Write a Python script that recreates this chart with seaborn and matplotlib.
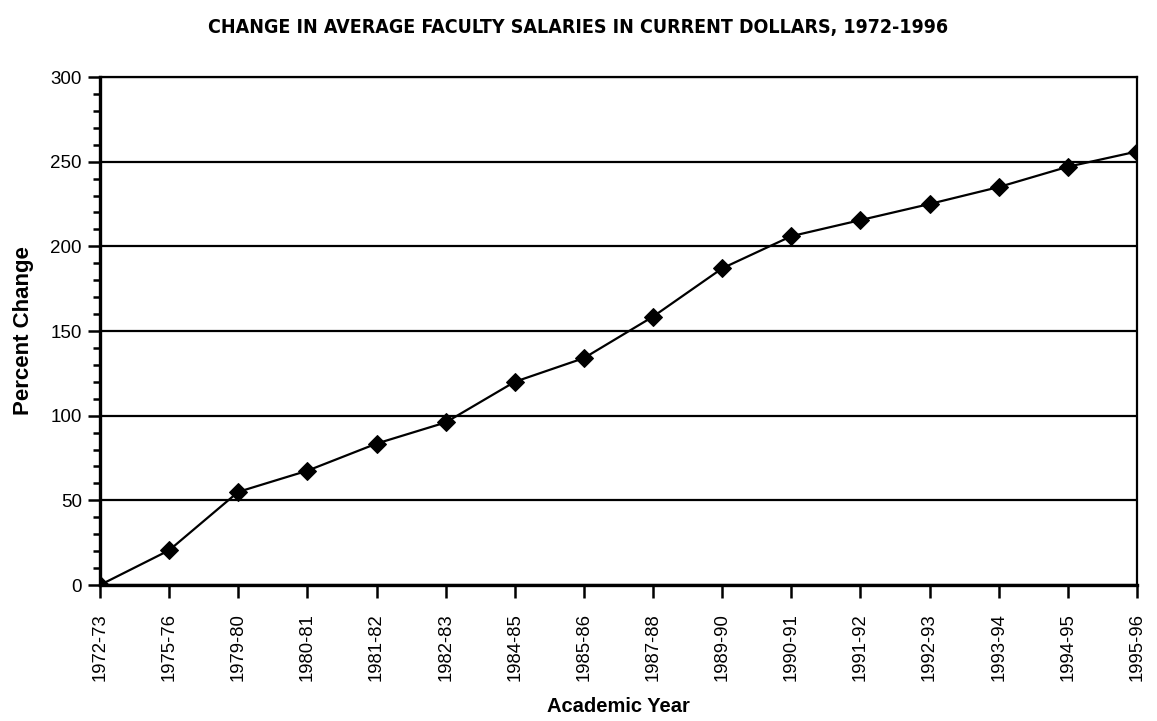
import numpy as np
import pandas as pd
import seaborn as sns
import matplotlib.pyplot as plt
from matplotlib.ticker import MultipleLocator

# data
years = ['1972-73', '1975-76', '1979-80', '1980-81', '1981-82', '1982-83',
         '1984-85', '1985-86', '1987-88', '1989-90', '1990-91', '1991-92',
         '1992-93', '1993-94', '1994-95', '1995-96']
pct_change = [0, 20.5, 55, 67.5, 83.5, 96, 120, 134, 158.5, 187,
              206, 215.5, 225, 235, 247, 256]

df = pd.DataFrame({'year': years, 'change': pct_change})

sns.set_style("white")
plt.rcParams['font.family'] = ['Liberation Sans', 'DejaVu Sans']
plt.rcParams['text.color'] = 'black'
plt.rcParams['axes.labelcolor'] = 'black'
plt.rcParams['xtick.color'] = 'black'
plt.rcParams['ytick.color'] = 'black'

fig, ax = plt.subplots(figsize=(11.57, 7.21), dpi=100)
fig.subplots_adjust(left=0.0864, right=0.9827, bottom=0.1886, top=0.8932)

p = sns.lineplot(ax=ax, x='year', y='change', data=df, sort=False,
                 color='black', linewidth=1.6, marker='D', markersize=9,
                 markeredgecolor='black', markerfacecolor='black')

ax.set_xlim(0, len(years) - 1)
ax.set_ylim(0, 300)
ax.yaxis.set_major_locator(MultipleLocator(50))
ax.yaxis.set_minor_locator(MultipleLocator(10))
ax.grid(axis='y', which='major', color='black', linewidth=1.6)
ax.grid(axis='x', visible=False)

for side in ['left', 'bottom']:
    ax.spines[side].set_linewidth(2.4)
for side in ['right', 'top']:
    ax.spines[side].set_linewidth(1.6)
for s in ax.spines.values():
    s.set_color('black')

ax.tick_params(axis='y', which='major', direction='out', length=9, width=1.8,
               labelsize=13.5, left=True, pad=4)
ax.tick_params(axis='y', which='minor', direction='out', length=5, width=1.8, left=True)
ax.tick_params(axis='x', which='major', direction='out', length=9.5, width=1.8,
               labelsize=13.3, bottom=True, rotation=90, pad=11)

ax.set_xlabel('Academic Year', fontsize=14.5, fontweight='bold', labelpad=11)
ax.set_ylabel('Percent Change', fontsize=16, fontweight='bold', labelpad=12)

fig.suptitle('CHANGE IN AVERAGE FACULTY SALARIES IN CURRENT DOLLARS, 1972-1996',
             x=0.5, y=0.975, fontsize=14, fontweight='bold',
             family='DejaVu Sans', fontstretch='condensed')

fig.savefig('out.png', dpi=100)
